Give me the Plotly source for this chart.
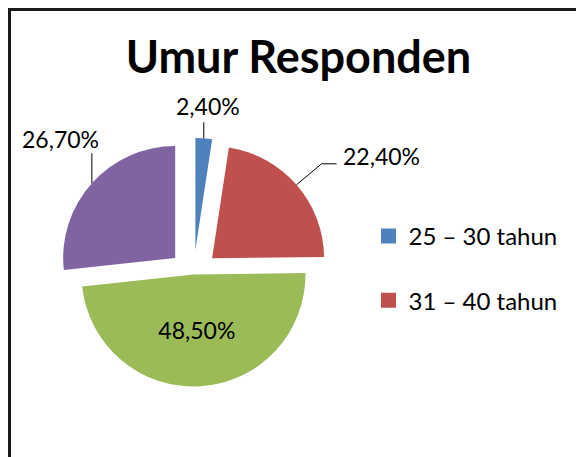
import math
import plotly.graph_objects as go

# ---- data ----
categories = ["25 – 30 tahun", "31 – 40 tahun", "41 – 50 tahun", "> 50 tahun"]
values = [2.40, 22.40, 48.50, 26.70]
legend_categories = ["25 – 30 tahun", "31 – 40 tahun"]
title_text = "Umur Responden"

colors = ["#4F81BD", "#C0504D", "#9BBB59", "#8064A2"]
pulls = [0.22, 0.22, 0.0, 0.22]
label_text = [f"{v:.2f}".replace(".", ",") + "%" for v in values]

FONT = "Lato, Calibri, sans-serif"
W, H = 584, 457
OFF = 8  # default page body margin

# pie geometry (screen pixels)
CX, CY, R = 193.5, 274.5, 112.0
HALF = R * (1 + max(pulls))


def fx(x):
    return (x - OFF) / W


def fy(y):
    return 1 - (y - OFF) / H


fig = go.Figure()
fig.add_trace(go.Pie(
    labels=categories,
    values=values,
    text=label_text,
    texttemplate="%{text}",
    textposition=["none", "none", "inside", "none"],
    insidetextorientation="horizontal",
    textfont=dict(family=FONT, size=23, color="black"),
    marker=dict(colors=colors, line=dict(width=0)),
    pull=pulls,
    sort=False,
    direction="clockwise",
    rotation=0,
    showlegend=False,
    hoverinfo="skip",
    domain=dict(x=[fx(CX - HALF), fx(CX + HALF)], y=[fy(CY + HALF), fy(CY - HALF)]),
))

# outside data labels with leader lines, anchored at each slice's mid-angle edge
total = sum(values)
cum = 0.0
anchors = []
for v, p in zip(values, pulls):
    th = 2 * math.pi * (cum + v / 2) / total
    s, c = math.sin(th), -math.cos(th)
    anchors.append((CX + (p * R + R) * s, CY + (p * R + R) * c))
    cum += v

# (slice index, leader elbow offsets, text offset, xanchor)
label_layout = [
    (0, [(0, -16)], (4, -32), "center"),
    (1, [(25, -21), (40, -21)], (44, -29), "left"),
    (3, [(0, -30)], (-31, -44), "center"),
]
annotations = []
shapes = []
for idx, elbows, (tx, ty), xa in label_layout:
    ax_, ay_ = anchors[idx]
    pts = [(ax_, ay_)] + [(ax_ + ex, ay_ + ey) for ex, ey in elbows]
    path = "M " + " L ".join(f"{fx(x):.5f},{fy(y):.5f}" for x, y in pts)
    shapes.append(dict(type="path", xref="paper", yref="paper", path=path,
                       line=dict(color="black", width=1)))
    annotations.append(dict(text=label_text[idx], xref="paper", yref="paper",
                            x=fx(ax_ + tx), y=fy(ay_ + ty), xanchor=xa, yanchor="middle",
                            showarrow=False,
                            font=dict(family=FONT, size=23, color="black")))

for name, col in zip(legend_categories, colors):
    fig.add_trace(go.Scatter(
        x=[None], y=[None], mode="markers", name=name,
        marker=dict(symbol="square", size=15, color=col),
        legendgroup=name, showlegend=True, hoverinfo="skip",
    ))

# chart-area frame (the page margin keeps it from sitting any closer to the edge)
shapes.append(dict(type="rect", xref="paper", yref="paper",
                   x0=1.5 / W, x1=1.05, y0=-0.05, y1=1 - 1.5 / H,
                   line=dict(color="#1a1a1a", width=3), layer="above"))

fig.update_layout(
    width=W, height=H,
    margin=dict(l=0, r=0, t=0, b=0, autoexpand=False),
    paper_bgcolor="white", plot_bgcolor="white",
    title=dict(text=f"<b>{title_text}</b>", x=fx(298.5), xanchor="center",
               y=fy(57), yanchor="middle",
               font=dict(family=FONT, size=45, color="black")),
    xaxis=dict(visible=False), yaxis=dict(visible=False),
    legend=dict(x=fx(368.5), xanchor="left", y=fy(214), yanchor="top",
                font=dict(family=FONT, size=24, color="black"),
                tracegroupgap=30, bgcolor="rgba(0,0,0,0)", itemclick=False),
    shapes=shapes,
    annotations=annotations,
)

fig.write_html("out.html")
